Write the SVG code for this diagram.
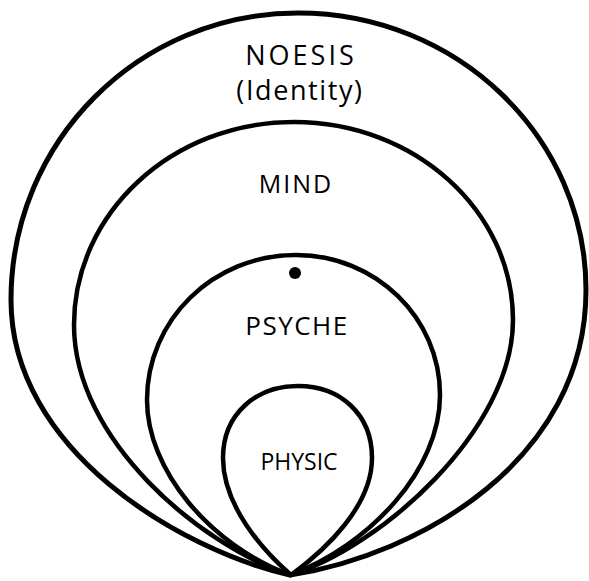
<svg xmlns="http://www.w3.org/2000/svg" width="589" height="581" viewBox="0 0 589 581">
<style>
.ring{fill:none;stroke:#000;stroke-linejoin:round;stroke-linecap:round}
.lbl{font-family:"Open Sans","Liberation Sans",sans-serif;fill:#000;text-anchor:middle}
</style>
<rect width="589" height="581" fill="#fff"/>
<g id="noesis">
<path class="ring" stroke-width="5" d="M290,575 C180,550 11,450 11,300 C11,141 139,13 298,13 C457,13 586,137 586,290 C586,460 420,555 290,575 Z"/>
<text class="lbl" x="301" y="65" font-size="27" letter-spacing="3">NOESIS</text>
<text class="lbl" x="300" y="100" font-size="27" letter-spacing="1.6">(Identity)</text>
</g>
<g id="mind">
<path class="ring" stroke-width="4.5" d="M290,575 C200,545 74,440 74,325 C74,213 172,122 294,122 C415,122 513,211 513,320 C513,430 380,548 290,575 Z"/>
<text class="lbl" x="296" y="193" font-size="25" letter-spacing="2">MIND</text>
</g>
<g id="psyche">
<path class="ring" stroke-width="4.5" d="M290,575 C210,545 147,470 147,400 C147,320 213,255 296,255 C376,255 440,318 440,395 C440,470 370,545 290,575 Z"/>
<circle cx="295" cy="273" r="6" fill="#000"/>
<text class="lbl" x="297" y="335" font-size="26" letter-spacing="1.5">PSYCHE</text>
</g>
<g id="physic">
<path class="ring" stroke-width="4.5" d="M291,575 C262,550 223,505 223,458 C223,414 256,386 298,386 C340,386 372,414 372,458 C372,505 328,548 291,575 Z"/>
<text class="lbl" x="299" y="470" font-size="23">PHYSIC</text>
</g>
<g id="connectors"/>
</svg>
